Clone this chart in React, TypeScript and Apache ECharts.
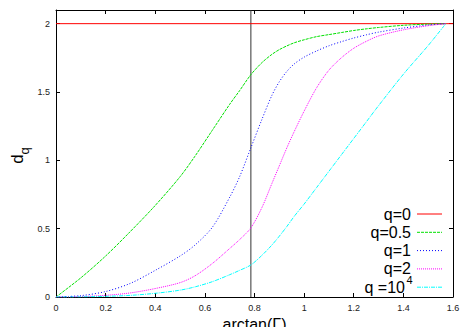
import React, { useEffect, useRef } from 'react';
import * as echarts from 'echarts';

// arctan(Gamma) sample positions
const X = [0, 0.1, 0.2, 0.3, 0.4, 0.5, 0.56, 0.63, 0.7, 0.74, 0.785, 0.83, 0.87, 0.9, 0.93, 0.96, 1.0, 1.05, 1.1, 1.15, 1.2, 1.25, 1.3, 1.4, 1.5, 1.571];

const Q0_X = [0, 1.6];
const Q0 = [2, 2];
const Q05 = [0, 0.14, 0.30, 0.48, 0.67, 0.88, 1.03, 1.22, 1.41, 1.51, 1.626, 1.715, 1.775, 1.81, 1.837, 1.86, 1.882, 1.905, 1.92, 1.935, 1.95, 1.962, 1.972, 1.988, 1.997, 2];
const Q1 = [0, 0.01, 0.04, 0.10, 0.195, 0.30, 0.38, 0.51, 0.73, 0.88, 1.09, 1.30, 1.475, 1.575, 1.65, 1.705, 1.755, 1.80, 1.838, 1.868, 1.895, 1.918, 1.938, 1.968, 1.99, 2];
const Q2 = [0, 0.003, 0.012, 0.03, 0.062, 0.105, 0.155, 0.245, 0.355, 0.42, 0.505, 0.655, 0.83, 0.96, 1.09, 1.21, 1.36, 1.53, 1.66, 1.75, 1.82, 1.87, 1.91, 1.955, 1.985, 2];
const Q1E4 = [0, 0.001, 0.005, 0.012, 0.027, 0.05, 0.074, 0.112, 0.163, 0.195, 0.234, 0.305, 0.38, 0.445, 0.515, 0.59, 0.68, 0.80, 0.92, 1.04, 1.16, 1.28, 1.40, 1.63, 1.84, 2];

const VLINE_X = [Math.PI / 4, Math.PI / 4];
const VLINE_Y = [0, 2.1];

const X_TICKS = { min: 0, max: 1.6, interval: 0.2 };
const Y_TICKS = { min: 0, max: 2.1, interval: 0.5 };

const LEGEND_LABELS = ['q=0', 'q=0.5', 'q=1', 'q=2', 'q =10'];
const COLORS = ['#ff0000', '#00e000', '#0000ff', '#ff00ff', '#00ffff'];
const DASHES: (string | number[])[] = ['solid', [3, 1], [1, 2], [1, 1], [4, 1, 1, 1]];

const FONT = '"Liberation Sans", Arial, Helvetica, sans-serif';

const zip = (xs: number[], ys: number[]) => xs.map((x, i) => [x, ys[i]]);

export default function App() {
  const ref = useRef<HTMLDivElement>(null);
  useEffect(() => {
    if (!ref.current) return;
    const chart = echarts.init(ref.current, undefined, { renderer: 'svg' });
    const frameAxis = {
      axisLine: { show: true, onZero: false, lineStyle: { color: '#000', width: 1 } },
      axisTick: { show: true, inside: true, length: 4, lineStyle: { color: '#000', width: 1 } },
      splitLine: { show: false },
    };
    const curves = [Q0, Q05, Q1, Q2, Q1E4];
    const series: any[] = [
      {
        type: 'line',
        data: zip(VLINE_X, VLINE_Y),
        showSymbol: false,
        silent: true,
        lineStyle: { color: '#333', width: 1 },
      },
    ];
    curves.forEach((c, i) => {
      series.push({
        type: 'line',
        name: LEGEND_LABELS[i],
        data: i === 0 ? zip(Q0_X, Q0) : zip(X, c),
        showSymbol: false,
        smooth: i === 0 ? false : 0.3,
        lineStyle: { color: COLORS[i], width: 1, type: DASHES[i] },
      });
    });
    const graphic: any[] = [];
    LEGEND_LABELS.forEach((lab, i) => {
      const y = 214 + i * 18.3;
      graphic.push({
        type: 'text',
        x: i === 4 ? 405 : 411,
        y,
        style: {
          text: lab,
          fill: '#000',
          fontSize: 16,
          lineHeight: 13,
          fontFamily: FONT,
          align: 'right',
          verticalAlign: 'middle',
          textAlign: 'right',
          textVerticalAlign: 'middle',
        },
      });
      graphic.push({
        type: 'line',
        shape: { x1: 417, y1: y, x2: 442, y2: y },
        style: { stroke: COLORS[i], lineWidth: 1, lineDash: DASHES[i] === 'solid' ? null : DASHES[i] },
      });
    });
    graphic.push({
      type: 'text',
      x: 406.5,
      y: 279.5,
      style: {
        text: '4',
        fill: '#000',
        fontSize: 11,
        lineHeight: 8,
        fontFamily: FONT,
        align: 'left',
        verticalAlign: 'middle',
        textAlign: 'left',
        textVerticalAlign: 'middle',
      },
    });
    graphic.push({
      type: 'text',
      x: 17.5,
      y: 159,
      rotation: Math.PI / 2,
      style: {
        text: 'd',
        fill: '#000',
        fontSize: 17,
        fontFamily: FONT,
        align: 'center',
        verticalAlign: 'middle',
        textAlign: 'center',
        textVerticalAlign: 'middle',
      },
    });
    graphic.push({
      type: 'text',
      x: 24,
      y: 151,
      rotation: Math.PI / 2,
      style: {
        text: 'q',
        fill: '#000',
        fontSize: 13,
        fontFamily: FONT,
        align: 'center',
        verticalAlign: 'middle',
        textAlign: 'center',
        textVerticalAlign: 'middle',
      },
    });

    const yFmt = (v: number) => (Math.abs(v * 2 - Math.round(v * 2)) < 1e-6 ? String(v) : '');

    chart.setOption({
      animation: false,
      backgroundColor: '#fff',
      grid: { left: 56, right: 14, top: 10, bottom: 30, containLabel: false, outerBoundsMode: 'none' },
      xAxis: [
        {
          type: 'value',
          ...X_TICKS,
          position: 'bottom',
          ...frameAxis,
          axisLabel: { fontSize: 9, color: '#222', margin: 6, fontFamily: FONT },
          name: 'arctan(\u0393)',
          nameLocation: 'middle',
          nameGap: 11,
          nameTextStyle: { fontSize: 16, color: '#000', fontFamily: FONT },
        },
        {
          type: 'value',
          ...X_TICKS,
          position: 'top',
          ...frameAxis,
          axisLabel: { show: false },
        },
      ],
      yAxis: [
        {
          type: 'value',
          ...Y_TICKS,
          position: 'left',
          ...frameAxis,
          axisLabel: { fontSize: 9, color: '#222', margin: 6, fontFamily: FONT, formatter: yFmt },
        },
        {
          type: 'value',
          ...Y_TICKS,
          position: 'right',
          ...frameAxis,
          axisLabel: { show: false },
        },
      ],
      series,
      graphic,
    });
    return () => chart.dispose();
  }, []);
  return (
    <div
      ref={ref}
      style={{ position: 'absolute', left: 0, top: 0, width: 467, height: 327, background: '#fff' }}
    />
  );
}
